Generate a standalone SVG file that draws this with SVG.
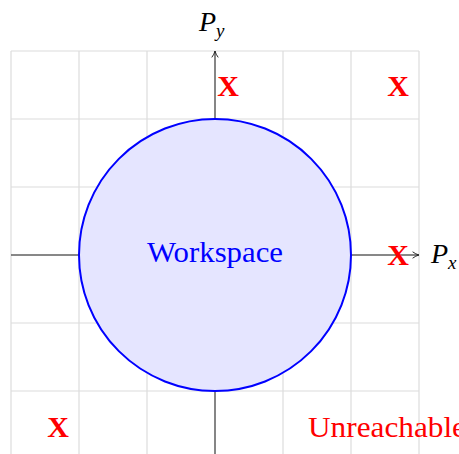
<svg xmlns="http://www.w3.org/2000/svg" width="459" height="454" viewBox="0 0 459 454">
<style>
.grid{stroke:#dcdcdc;stroke-width:1.2;fill:none}
.axis{stroke:#222;stroke-width:1;fill:none}
.xm{font-family:"Liberation Serif",serif;font-weight:bold;font-size:30px;fill:#ff0000;text-anchor:middle}
.lbl{font-family:"Liberation Serif",serif;font-size:29px}
.math{font-family:"Liberation Serif",serif;font-style:italic;font-size:28px;fill:#000}
</style>
<defs>
<marker id="arr" viewBox="0 0 10 10" refX="9" refY="5" markerWidth="8" markerHeight="8" markerUnits="userSpaceOnUse" orient="auto">
<path d="M1,1 Q5,4 9,5 Q5,6 1,9" fill="none" stroke="#222" stroke-width="1.2"/>
</marker>
</defs>
<g id="grid" class="grid">
<path d="M11,51V454M79,51V454M147,51V454M215,51V454M283,51V454M351,51V454M419,51V454"/>
<path d="M11,51H419M11,119H419M11,187H419M11,255H419M11,323H419M11,391H419"/>
</g>
<g id="connectors">
<line class="axis" x1="11" y1="255" x2="419" y2="255" marker-end="url(#arr)"/>
<line class="axis" x1="215" y1="454" x2="215" y2="51" marker-end="url(#arr)"/>
</g>
<g id="workspace">
<circle cx="215" cy="255" r="136" fill="#e5e5ff" stroke="#0000ff" stroke-width="2"/>
<text class="lbl" x="215" y="262" fill="#0000ff" text-anchor="middle" textLength="136" lengthAdjust="spacingAndGlyphs">Workspace</text>
</g>
<g id="marks">
<text class="xm" x="228" y="96">X</text>
<text class="xm" x="398" y="96">X</text>
<text class="xm" x="398" y="265">X</text>
<text class="xm" x="58" y="437">X</text>
</g>
<g id="unreachable">
<text class="lbl" x="308" y="437" fill="#ff0000" textLength="158" lengthAdjust="spacingAndGlyphs">Unreachable</text>
</g>
<g id="py-label">
<text class="math" x="199" y="31">P<tspan font-size="19" dy="6">y</tspan></text>
</g>
<g id="px-label">
<text class="math" x="431" y="263">P<tspan font-size="19" dy="6">x</tspan></text>
</g>
</svg>
